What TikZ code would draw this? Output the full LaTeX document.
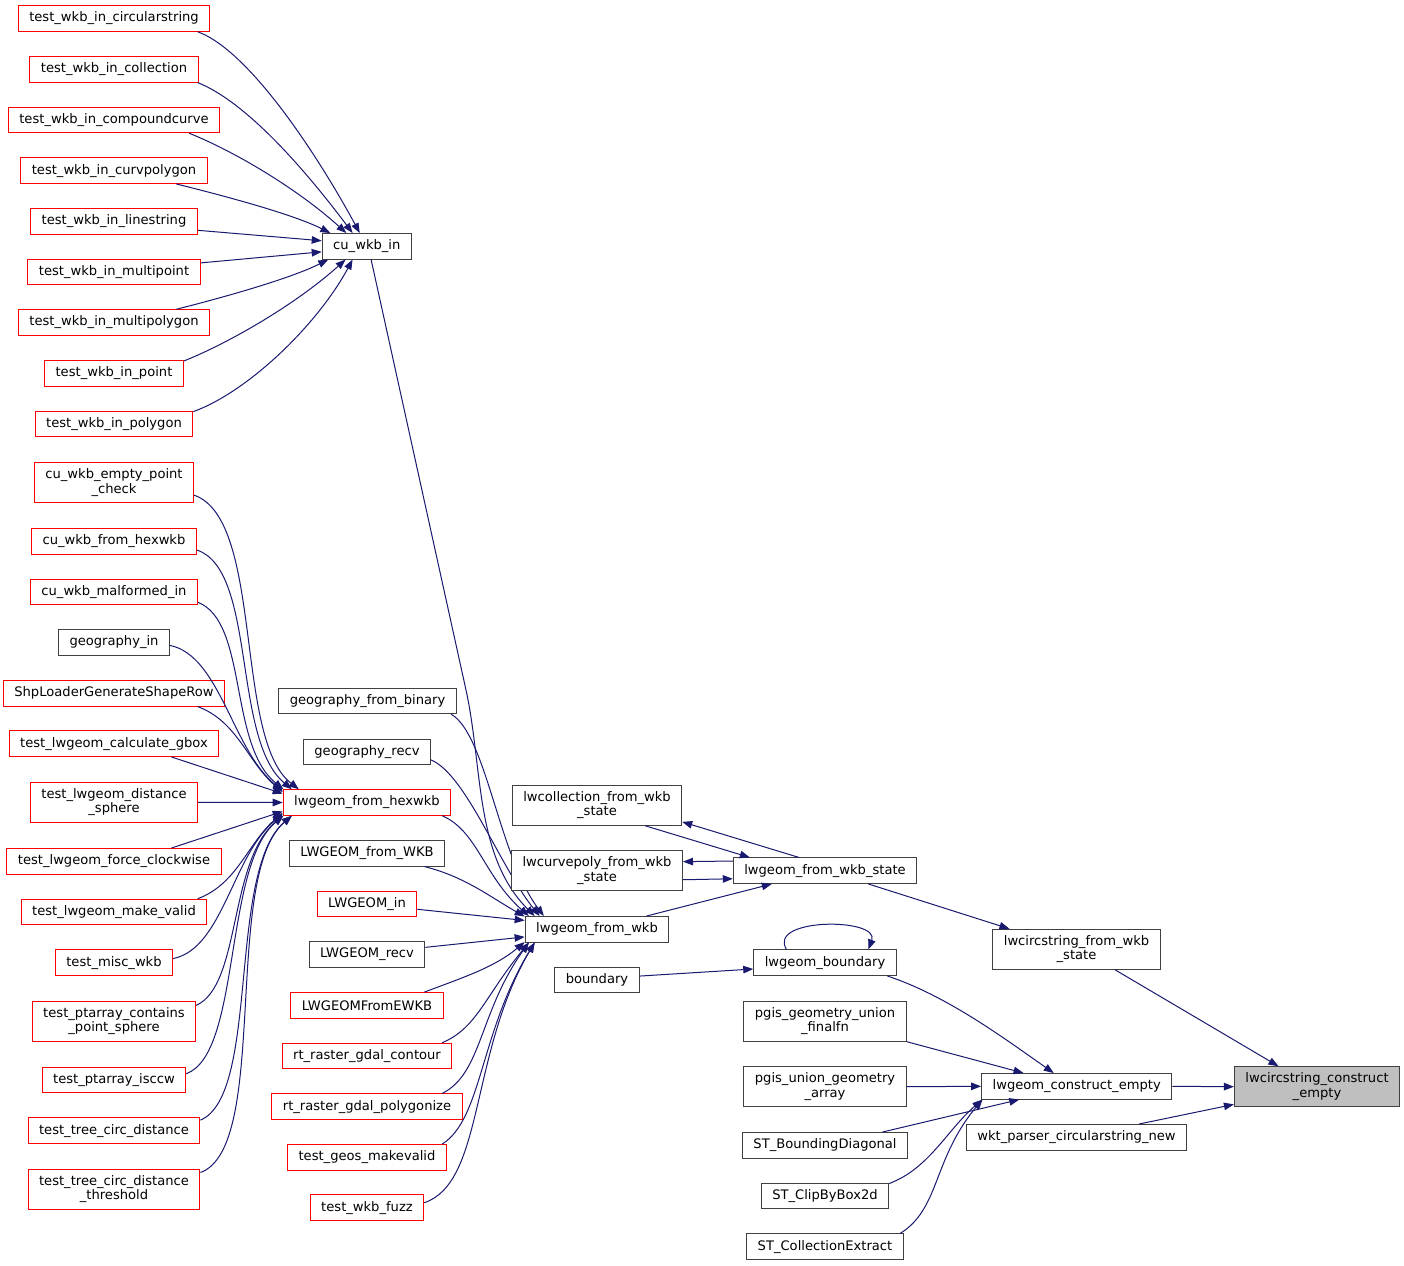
\documentclass[tikz,border=0pt]{standalone}
\usepackage{fontspec}
\setmainfont{DejaVu Sans}
\usetikzlibrary{arrows.meta}
\definecolor{edgeblue}{RGB}{25,25,112}
\definecolor{boxgray}{RGB}{64,64,64}
\definecolor{boxred}{RGB}{255,0,0}
\definecolor{rootfill}{RGB}{191,191,191}
\begin{document}
\begin{tikzpicture}[x=1pt,y=1pt]
\tikzstyle{func}=[rectangle,draw=boxgray,fill=white,line width=1pt,inner xsep=11pt,inner ysep=2pt,minimum height=25.5pt,align=center,font=\fontsize{13.1}{14.5}\selectfont]
\tikzstyle{funcRed}=[func,draw=boxred]
\tikzstyle{twoLine}=[minimum height=40pt]
\tikzstyle{target}=[func,fill=rootfill,twoLine]
\tikzstyle{call}=[draw=edgeblue,line width=1pt,-{Triangle[length=10pt,width=7.5pt]}]

\fill[white] (0,0) rectangle (1404,-1265);
\useasboundingbox (0,0) rectangle (1404,-1265);

\node[funcRed] (twkbCircString) at (114,-18.5) {test\_wkb\_in\_circularstring};
\node[funcRed] (twkbCollection) at (114,-69.3) {test\_wkb\_in\_collection};
\node[funcRed] (twkbCompound) at (114,-120) {test\_wkb\_in\_compoundcurve};
\node[funcRed] (twkbCurvPoly) at (114,-170.7) {test\_wkb\_in\_curvpolygon};
\node[funcRed] (twkbLine) at (114,-221.5) {test\_wkb\_in\_linestring};
\node[funcRed] (twkbMultiPt) at (114,-272) {test\_wkb\_in\_multipoint};
\node[funcRed] (twkbMultiPoly) at (114,-322.5) {test\_wkb\_in\_multipolygon};
\node[funcRed] (twkbPoint) at (114,-373.3) {test\_wkb\_in\_point};
\node[funcRed] (twkbPoly) at (114,-424.2) {test\_wkb\_in\_polygon};

\node[func] (cuWkbIn) at (366.8,-246.3) {cu\_wkb\_in};
\draw[call] (twkbCircString.-9) .. controls +(55,-20) and +(-35,65) .. (cuWkbIn.118);
\draw[call] (twkbCollection.-9) .. controls +(50,-20) and +(-45,60) .. (cuWkbIn.137);
\draw[call] (twkbCompound.-10) .. controls +(45,-18) and +(-50,45) .. (cuWkbIn.147);
\draw[call] (twkbCurvPoly.-12) .. controls +(40,-10) and +(-40,20) .. (cuWkbIn.160);
\draw[call] (twkbLine.-6) -- (cuWkbIn.173);
\draw[call] (twkbMultiPt.6) -- (cuWkbIn.187);
\draw[call] (twkbMultiPoly.12) .. controls +(40,10) and +(-40,-20) .. (cuWkbIn.199);
\draw[call] (twkbPoint.10) .. controls +(45,18) and +(-50,-45) .. (cuWkbIn.212);
\draw[call] (twkbPoly.9) .. controls +(55,20) and +(-35,-65) .. (cuWkbIn.223);

\node[funcRed,twoLine] (cuEmptyPt) at (114,-482.5) {cu\_wkb\_empty\_point\\\_check};
\node[funcRed] (cuFromHex) at (114,-541.3) {cu\_wkb\_from\_hexwkb};
\node[funcRed] (cuMalformed) at (114,-592) {cu\_wkb\_malformed\_in};
\node[func] (geogIn) at (114,-642.5) {geography\_in};
\node[funcRed] (shpLoader) at (114,-693.3) {ShpLoaderGenerateShapeRow};
\node[funcRed] (tCalcGbox) at (114,-743.7) {test\_lwgeom\_calculate\_gbox};
\node[funcRed,twoLine] (tDistSphere) at (114,-802.3) {test\_lwgeom\_distance\\\_sphere};
\node[funcRed] (tForceCw) at (114,-861.3) {test\_lwgeom\_force\_clockwise};
\node[funcRed] (tMakeValid) at (114,-912) {test\_lwgeom\_make\_valid};
\node[funcRed] (tMiscWkb) at (114,-962.7) {test\_misc\_wkb};
\node[funcRed,twoLine] (tPtContains) at (114,-1021.3) {test\_ptarray\_contains\\\_point\_sphere};
\node[funcRed] (tIsccw) at (114,-1080) {test\_ptarray\_isccw};
\node[funcRed] (tTreeDist) at (114,-1130.7) {test\_tree\_circ\_distance};
\node[funcRed,twoLine] (tTreeThresh) at (114,-1189.3) {test\_tree\_circ\_distance\\\_threshold};

\node[funcRed] (lwHexWkb) at (367,-802.5) {lwgeom\_from\_hexwkb};
\draw[call] (cuEmptyPt.-9) .. controls +(70,-24) and +(-65,50) .. (lwHexWkb.169);
\draw[call] (cuFromHex.-6) .. controls +(60,-20) and +(-60,50) .. (lwHexWkb.170);
\draw[call] (cuMalformed.-7) .. controls +(50,-20) and +(-55,45) .. (lwHexWkb.171);
\draw[call] (geogIn.-3) .. controls +(50,-10) and +(-50,40) .. (lwHexWkb.172);
\draw[call] (shpLoader.-9) .. controls +(40,-15) and +(-35,30) .. (lwHexWkb.173);
\draw[call] (tCalcGbox.-13) -- (lwHexWkb.174);
\draw[call] (tDistSphere.east) -- (lwHexWkb.west);
\draw[call] (tForceCw.13) -- (lwHexWkb.186);
\draw[call] (tMakeValid.9) .. controls +(40,15) and +(-35,-30) .. (lwHexWkb.187);
\draw[call] (tMiscWkb.4) .. controls +(50,10) and +(-50,-40) .. (lwHexWkb.188);
\draw[call] (tPtContains.11) .. controls +(45,20) and +(-55,-45) .. (lwHexWkb.189);
\draw[call] (tIsccw.5) .. controls +(55,20) and +(-60,-50) .. (lwHexWkb.189.5);
\draw[call] (tTreeDist.7) .. controls +(60,25) and +(-65,-55) .. (lwHexWkb.190);
\draw[call] (tTreeThresh.11) .. controls +(70,25) and +(-70,-60) .. (lwHexWkb.190.5);

\node[func] (geogFromBin) at (367.5,-701) {geography\_from\_binary};
\node[func] (geogRecv) at (367,-752) {geography\_recv};
\node[func] (lwFromWkbPg) at (367,-853.3) {LWGEOM\_from\_WKB};
\node[funcRed] (lwIn) at (367,-904) {LWGEOM\_in};
\node[func] (lwRecv) at (367,-954.5) {LWGEOM\_recv};
\node[funcRed] (lwFromEwkb) at (367,-1005.3) {LWGEOMFromEWKB};
\node[funcRed] (rtContour) at (367,-1056) {rt\_raster\_gdal\_contour};
\node[funcRed] (rtPolygonize) at (367,-1106.7) {rt\_raster\_gdal\_polygonize};
\node[funcRed] (geosMakeValid) at (367,-1157.3) {test\_geos\_makevalid};
\node[funcRed] (wkbFuzz) at (367,-1207.7) {test\_wkb\_fuzz};

%the long cu_wkb_in edge bends here
\node[func] (fromWkb) at (597,-929.3) {lwgeom\_from\_wkb};
\coordinate (cuBend) at (466,-690);
\draw[call] (cuWkbIn.-72) -- (cuBend) .. controls +(17,-78) and +(-60,60) .. (fromWkb.168);
\draw[call] (geogFromBin.-9) .. controls +(35,-20) and +(-45,60) .. (fromWkb.166);
\draw[call] (geogRecv.-7) .. controls +(35,-15) and +(-40,50) .. (fromWkb.167);
\draw[call] (lwHexWkb.-10) .. controls +(35,-15) and +(-45,40) .. (fromWkb.169);
\draw[call] (lwFromWkbPg.-13) .. controls +(40,-10) and +(-35,20) .. (fromWkb.170);
\draw[call] (lwIn.-6) -- (fromWkb.173);
\draw[call] (lwRecv.7) -- (fromWkb.186);
\draw[call] (lwFromEwkb.13) .. controls +(40,15) and +(-30,-25) .. (fromWkb.190);
\draw[call] (rtContour.10) .. controls +(35,15) and +(-45,-55) .. (fromWkb.191);
\draw[call] (rtPolygonize.10) .. controls +(40,20) and +(-50,-70) .. (fromWkb.191.5);
\draw[call] (geosMakeValid.10) .. controls +(40,25) and +(-55,-90) .. (fromWkb.192);
\draw[call] (wkbFuzz.5) .. controls +(60,20) and +(-65,-110) .. (fromWkb.192.5);

\node[func] (boundary) at (597,-979.8) {boundary};
\node[func,twoLine] (collState) at (597,-805.3) {lwcollection\_from\_wkb\\\_state};
\node[func,twoLine] (curveState) at (597,-870.7) {lwcurvepoly\_from\_wkb\\\_state};

\node[func] (wkbState) at (825,-870.7) {lwgeom\_from\_wkb\_state};
\draw[call] (fromWkb.15) -- (wkbState.194);
\draw[call] (wkbState.153) -- (collState.-11);
\draw[call] (collState.-23) -- (wkbState.170);
\draw[call] (wkbState.174.5) -- (curveState.6);
\draw[call] (curveState.-6) -- (wkbState.185.5);

%lwgeom_boundary calls itself
\node[func] (lwBoundary) at (825,-962.7) {lwgeom\_boundary};
\draw[call] (boundary.5) -- (lwBoundary.185);
\draw[call] (lwBoundary.161) .. controls +(-20,32) and +(12,32) .. (lwBoundary.17);

\node[func,twoLine] (unionFinal) at (825,-1021.3) {pgis\_geometry\_union\\\_finalfn};
\node[func,twoLine] (unionArray) at (825,-1086.7) {pgis\_union\_geometry\\\_array};
\node[func] (bboxDiag) at (825,-1145.3) {ST\_BoundingDiagonal};
\node[func] (clipBox) at (825,-1196) {ST\_ClipByBox2d};
\node[func] (collExtract) at (825,-1246.7) {ST\_CollectionExtract};

\node[func,twoLine] (circState) at (1076.5,-949.3) {lwcircstring\_from\_wkb\\\_state};
\draw[call] (wkbState.-17) -- (circState.163);

\node[func] (constructEmpty) at (1076.7,-1086.3) {lwgeom\_construct\_empty};
\draw[call] (lwBoundary.-12) .. controls +(60,-20) and +(-50,35) .. (constructEmpty.150);
\draw[call] (unionFinal.-14) -- (constructEmpty.166);
\draw[call] (unionArray.east) -- (constructEmpty.west);
\draw[call] (bboxDiag.13) -- (constructEmpty.193);
\draw[call] (clipBox.11) .. controls +(40,15) and +(-35,-30) .. (constructEmpty.188.5);
\draw[call] (collExtract.10) .. controls +(40,25) and +(-50,-60) .. (constructEmpty.188);

\node[func] (wktCircNew) at (1076.5,-1137.3) {wkt\_parser\_circularstring\_new};

\node[target] (circEmpty) at (1317,-1086.7) {lwcircstring\_construct\\\_empty};
\draw[call] (circState.-28) -- (circEmpty.152);
\draw[call] (constructEmpty.east) -- (circEmpty.west);
\draw[call] (wktCircNew.12) -- (circEmpty.192);

\end{tikzpicture}
\end{document}
